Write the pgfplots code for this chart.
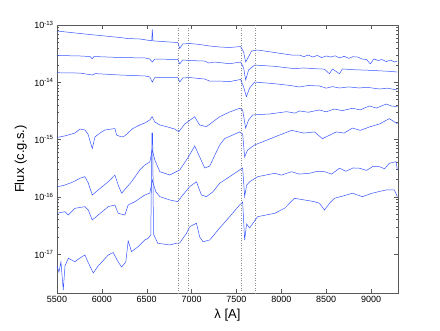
\documentclass[border=0pt]{standalone}
\usepackage{fontspec}
\setmainfont{Liberation Sans}
\usepackage{pgfplots}
\pgfplotsset{compat=1.18}
\definecolor{specblue}{RGB}{55,85,255}
\begin{document}
\begin{tikzpicture}
\useasboundingbox (-57pt,-38pt) rectangle (383pt,293pt);
\begin{axis}[
  scale only axis, width=341pt, height=268pt,
  ymode=log,
  xmin=5500, xmax=9300, ymin=2.1e-18, ymax=1e-13,
  xtick={5500,6000,...,9000},
  ytick={1e-17,1e-16,1e-15,1e-14,1e-13},
  yticklabels={10\textsuperscript{-17},10\textsuperscript{-16},10\textsuperscript{-15},10\textsuperscript{-14},10\textsuperscript{-13}},
  tick align=inside,
  major tick length=4pt, minor tick length=2pt,
  axis line style={black!65},
  every tick/.style={black!65},
  ticklabel style={font=\fontsize{9}{10}\selectfont},
  xticklabel style={/pgf/number format/1000 sep={}, /pgf/number format/assume math mode=true},
  xlabel={λ [A]}, ylabel={Flux (c.g.s.)},
  label style={font=\fontsize{13}{15}\selectfont},
  xlabel style={at={(axis description cs:0.5,-0.082)}, anchor=center},
  ylabel style={at={(axis description cs:-0.106,0.5)}, anchor=center},
  spec/.style={color=specblue, line width=0.5pt, no marks},
  tel/.style={color=black!45, dotted, line width=0.5pt, no marks},
]
% telluric bands
\addplot[tel] coordinates {(6850,2.1e-18) (6850,1e-13)};
\addplot[tel] coordinates {(6965,2.1e-18) (6965,1e-13)};
\addplot[tel] coordinates {(7550,2.1e-18) (7550,1e-13)};
\addplot[tel] coordinates {(7705,2.1e-18) (7705,1e-13)};

% spectrum 1
\addplot[spec] coordinates {
 (5500,7.86e-14) (5756,7.11e-14) (5978,6.56e-14) (6201,6.05e-14) (6290,5.81e-14)
 (6423,5.70e-14) (6534,5.36e-14) (6556,5.30e-14) (6562,8.35e-14) (6570,5.30e-14)
 (6590,5.26e-14) (6757,5.05e-14) (6846,4.95e-14) (6868,3.89e-14) (6901,4.66e-14)
 (6979,4.76e-14) (7090,4.57e-14) (7202,4.30e-14) (7313,4.13e-14) (7424,4.05e-14)
 (7546,4.21e-14) (7580,3.38e-14) (7602,2.26e-14) (7624,2.60e-14) (7669,3.52e-14)
 (7736,3.66e-14) (7925,3.31e-14) (8114,2.99e-14) (8203,2.99e-14) (8250,2.80e-14)
 (8300,2.99e-14) (8350,2.76e-14) (8400,2.94e-14) (8450,2.70e-14) (8500,2.88e-14)
 (8550,2.76e-14) (8600,2.90e-14) (8650,2.66e-14) (8700,2.85e-14) (8750,2.62e-14)
 (8800,2.80e-14) (8850,2.76e-14) (8900,2.55e-14) (8950,2.50e-14) (8992,2.09e-14)
 (9030,2.55e-14) (9080,2.40e-14) (9120,2.50e-14) (9170,2.30e-14) (9220,2.45e-14)
 (9260,2.26e-14) (9293,2.35e-14)};

% spectrum 2
\addplot[spec] coordinates {
 (5500,2.94e-14) (5756,2.88e-14) (5867,2.82e-14) (5893,2.58e-14) (5912,2.82e-14)
 (6201,2.71e-14) (6479,2.66e-14) (6534,2.55e-14) (6562,2.26e-14) (6590,2.55e-14)
 (6846,2.50e-14) (6868,2.09e-14) (6901,2.45e-14) (6979,2.40e-14) (7146,2.35e-14)
 (7191,2.17e-14) (7257,2.26e-14) (7424,2.11e-14) (7546,2.26e-14) (7580,1.78e-14)
 (7602,1.10e-14) (7635,1.64e-14) (7702,2.00e-14) (7925,1.90e-14) (8147,1.73e-14)
 (8250,1.78e-14) (8369,1.73e-14) (8480,1.70e-14) (8536,1.41e-14) (8570,1.71e-14)
 (8648,1.41e-14) (8681,1.71e-14) (8800,1.66e-14) (8981,1.62e-14) (9148,1.57e-14)
 (9220,1.55e-14) (9293,1.51e-14)};

% spectrum 3
\addplot[spec] coordinates {
 (5500,1.47e-14) (5756,1.45e-14) (5893,1.34e-14) (5923,1.42e-14) (6201,1.34e-14)
 (6479,1.29e-14) (6534,1.24e-14) (6562,1.01e-14) (6590,1.21e-14) (6846,1.21e-14)
 (6868,1.01e-14) (6901,1.19e-14) (6979,1.21e-14) (7146,1.14e-14) (7202,1.05e-14)
 (7313,1.05e-14) (7424,1.03e-14) (7546,1.12e-14) (7580,8.28e-15) (7610,5.61e-15)
 (7647,7.95e-15) (7702,1.01e-14) (7925,9.45e-15) (8100,8.80e-15) (8203,8.28e-15)
 (8300,8.80e-15) (8425,8.62e-15) (8500,7.90e-15) (8570,8.40e-15) (8648,7.95e-15)
 (8750,8.30e-15) (8870,7.95e-15) (8950,8.20e-15) (9092,7.64e-15) (9180,7.90e-15)
 (9293,7.34e-15)};

% spectrum 4
\addplot[spec] coordinates {
 (5500,1.09e-15) (5589,1.16e-15) (5700,1.30e-15) (5756,1.53e-15) (5811,1.47e-15)
 (5845,1.25e-15) (5893,6.99e-16) (5923,1.11e-15) (5978,1.30e-15) (6034,1.47e-15)
 (6145,1.56e-15) (6164,1.20e-15) (6220,1.11e-15) (6256,1.16e-15) (6345,1.56e-15)
 (6423,1.80e-15) (6479,1.95e-15) (6534,2.20e-15) (6560,2.51e-15) (6590,2.03e-15)
 (6646,1.80e-15) (6720,1.68e-15) (6812,1.53e-15) (6857,1.37e-15) (6924,1.87e-15)
 (7035,2.51e-15) (7068,2.03e-15) (7090,1.80e-15) (7165,1.68e-15) (7235,2.03e-15)
 (7313,2.51e-15) (7424,3.03e-15) (7535,3.52e-15) (7569,3.29e-15) (7602,1.59e-15)
 (7635,2.20e-15) (7680,2.69e-15) (7869,2.80e-15) (8058,3.07e-15) (8150,2.90e-15)
 (8203,3.16e-15) (8300,3.00e-15) (8425,3.29e-15) (8500,3.05e-15) (8592,3.42e-15)
 (8680,3.20e-15) (8792,3.52e-15) (8880,3.30e-15) (8981,3.86e-15) (9060,3.55e-15)
 (9170,4.18e-15) (9226,3.86e-15) (9293,3.75e-15)};

% spectrum 5
\addplot[spec] coordinates {
 (5500,1.49e-16) (5589,1.61e-16) (5678,1.82e-16) (5756,2.11e-16) (5811,2.25e-16)
 (5848,1.75e-16) (5893,1.08e-16) (5959,1.32e-16) (6071,1.84e-16) (6145,2.41e-16)
 (6182,1.61e-16) (6220,1.16e-16) (6331,1.84e-16) (6423,2.95e-16) (6479,3.60e-16)
 (6534,4.06e-16) (6562,6.58e-16) (6590,4.41e-16) (6646,2.75e-16) (6757,2.41e-16)
 (6868,2.95e-16) (6957,4.77e-16) (7035,7.73e-16) (7090,4.97e-16) (7146,3.19e-16)
 (7202,3.46e-16) (7313,8.05e-16) (7368,1.04e-15) (7535,1.36e-15) (7569,1.25e-15)
 (7591,4.97e-16) (7624,6.58e-16) (7702,8.05e-16) (7925,1.11e-15) (8114,1.45e-15)
 (8250,1.30e-15) (8369,1.36e-15) (8458,1.04e-15) (8614,1.36e-15) (8700,1.30e-15)
 (8792,1.59e-15) (8880,1.45e-15) (8981,1.66e-15) (9092,1.87e-15) (9204,2.32e-15)
 (9293,1.89e-15)};

% spectrum 6
\addplot[spec] coordinates {
 (5500,5.17e-17) (5589,5.52e-17) (5626,4.83e-17) (5700,6.32e-17) (5811,6.75e-17)
 (5848,5.91e-17) (5893,3.95e-17) (5959,4.83e-17) (6071,6.75e-17) (6145,7.22e-17)
 (6182,5.17e-17) (6256,4.83e-17) (6293,7.22e-17) (6368,8.25e-17) (6479,1.08e-16)
 (6534,1.16e-16) (6562,1.97e-16) (6601,1.23e-16) (6646,1.01e-16) (6757,8.83e-17)
 (6846,8.25e-17) (6887,1.01e-16) (6979,1.51e-16) (7054,1.84e-16) (7109,1.08e-16)
 (7165,1.01e-16) (7238,1.23e-16) (7313,1.73e-16) (7424,2.25e-16) (7535,2.95e-16)
 (7569,3.19e-16) (7591,1.01e-16) (7613,1.60e-16) (7647,1.84e-16) (7736,2.25e-16)
 (7925,2.58e-16) (8000,2.40e-16) (8114,2.75e-16) (8200,2.50e-16) (8314,2.58e-16)
 (8400,2.80e-16) (8481,2.75e-16) (8560,2.50e-16) (8648,3.16e-16) (8720,2.80e-16)
 (8800,3.20e-16) (8870,3.16e-16) (8950,2.90e-16) (9020,3.40e-16) (9092,3.37e-16)
 (9150,3.10e-16) (9204,3.86e-16) (9278,4.12e-16) (9293,2.95e-16)};

% spectrum 7
\addplot[spec] coordinates {
 (5500,6.23e-18) (5522,4.89e-18) (5544,7.31e-18) (5570,2.37e-18) (5589,6.23e-18)
 (5626,8.48e-18) (5700,7.40e-18) (5756,8.58e-18) (5811,9.68e-18) (5845,7.31e-18)
 (5904,4.70e-18) (5959,6.23e-18) (6071,9.68e-18) (6126,1.07e-17) (6182,7.31e-18)
 (6220,5.98e-18) (6267,7.31e-18) (6293,1.70e-17) (6331,1.11e-17) (6404,1.35e-17)
 (6479,1.77e-17) (6515,1.89e-17) (6545,2.16e-17) (6558,1.30e-15) (6566,1.30e-15)
 (6575,2.25e-17) (6623,1.55e-17) (6757,1.45e-17) (6831,1.55e-17) (6868,1.57e-17)
 (6943,2.32e-17) (6979,3.02e-17) (7054,3.46e-17) (7090,2.00e-17) (7127,1.65e-17)
 (7202,1.77e-17) (7313,2.87e-17) (7424,4.51e-17) (7535,7.22e-17) (7569,8.15e-17)
 (7591,1.77e-17) (7613,3.37e-17) (7647,2.87e-17) (7736,4.51e-17) (7925,5.17e-17)
 (8036,6.32e-17) (8147,9.45e-17) (8258,8.83e-17) (8369,8.25e-17) (8425,7.73e-17)
 (8481,5.91e-17) (8536,7.70e-17) (8592,9.45e-17) (8700,1.05e-16) (8792,1.16e-16)
 (8903,1.01e-16) (9014,1.16e-16) (9100,1.25e-16) (9170,1.32e-16) (9259,1.32e-16)
 (9293,1.01e-16)};
\end{axis}
\end{tikzpicture}
\end{document}
